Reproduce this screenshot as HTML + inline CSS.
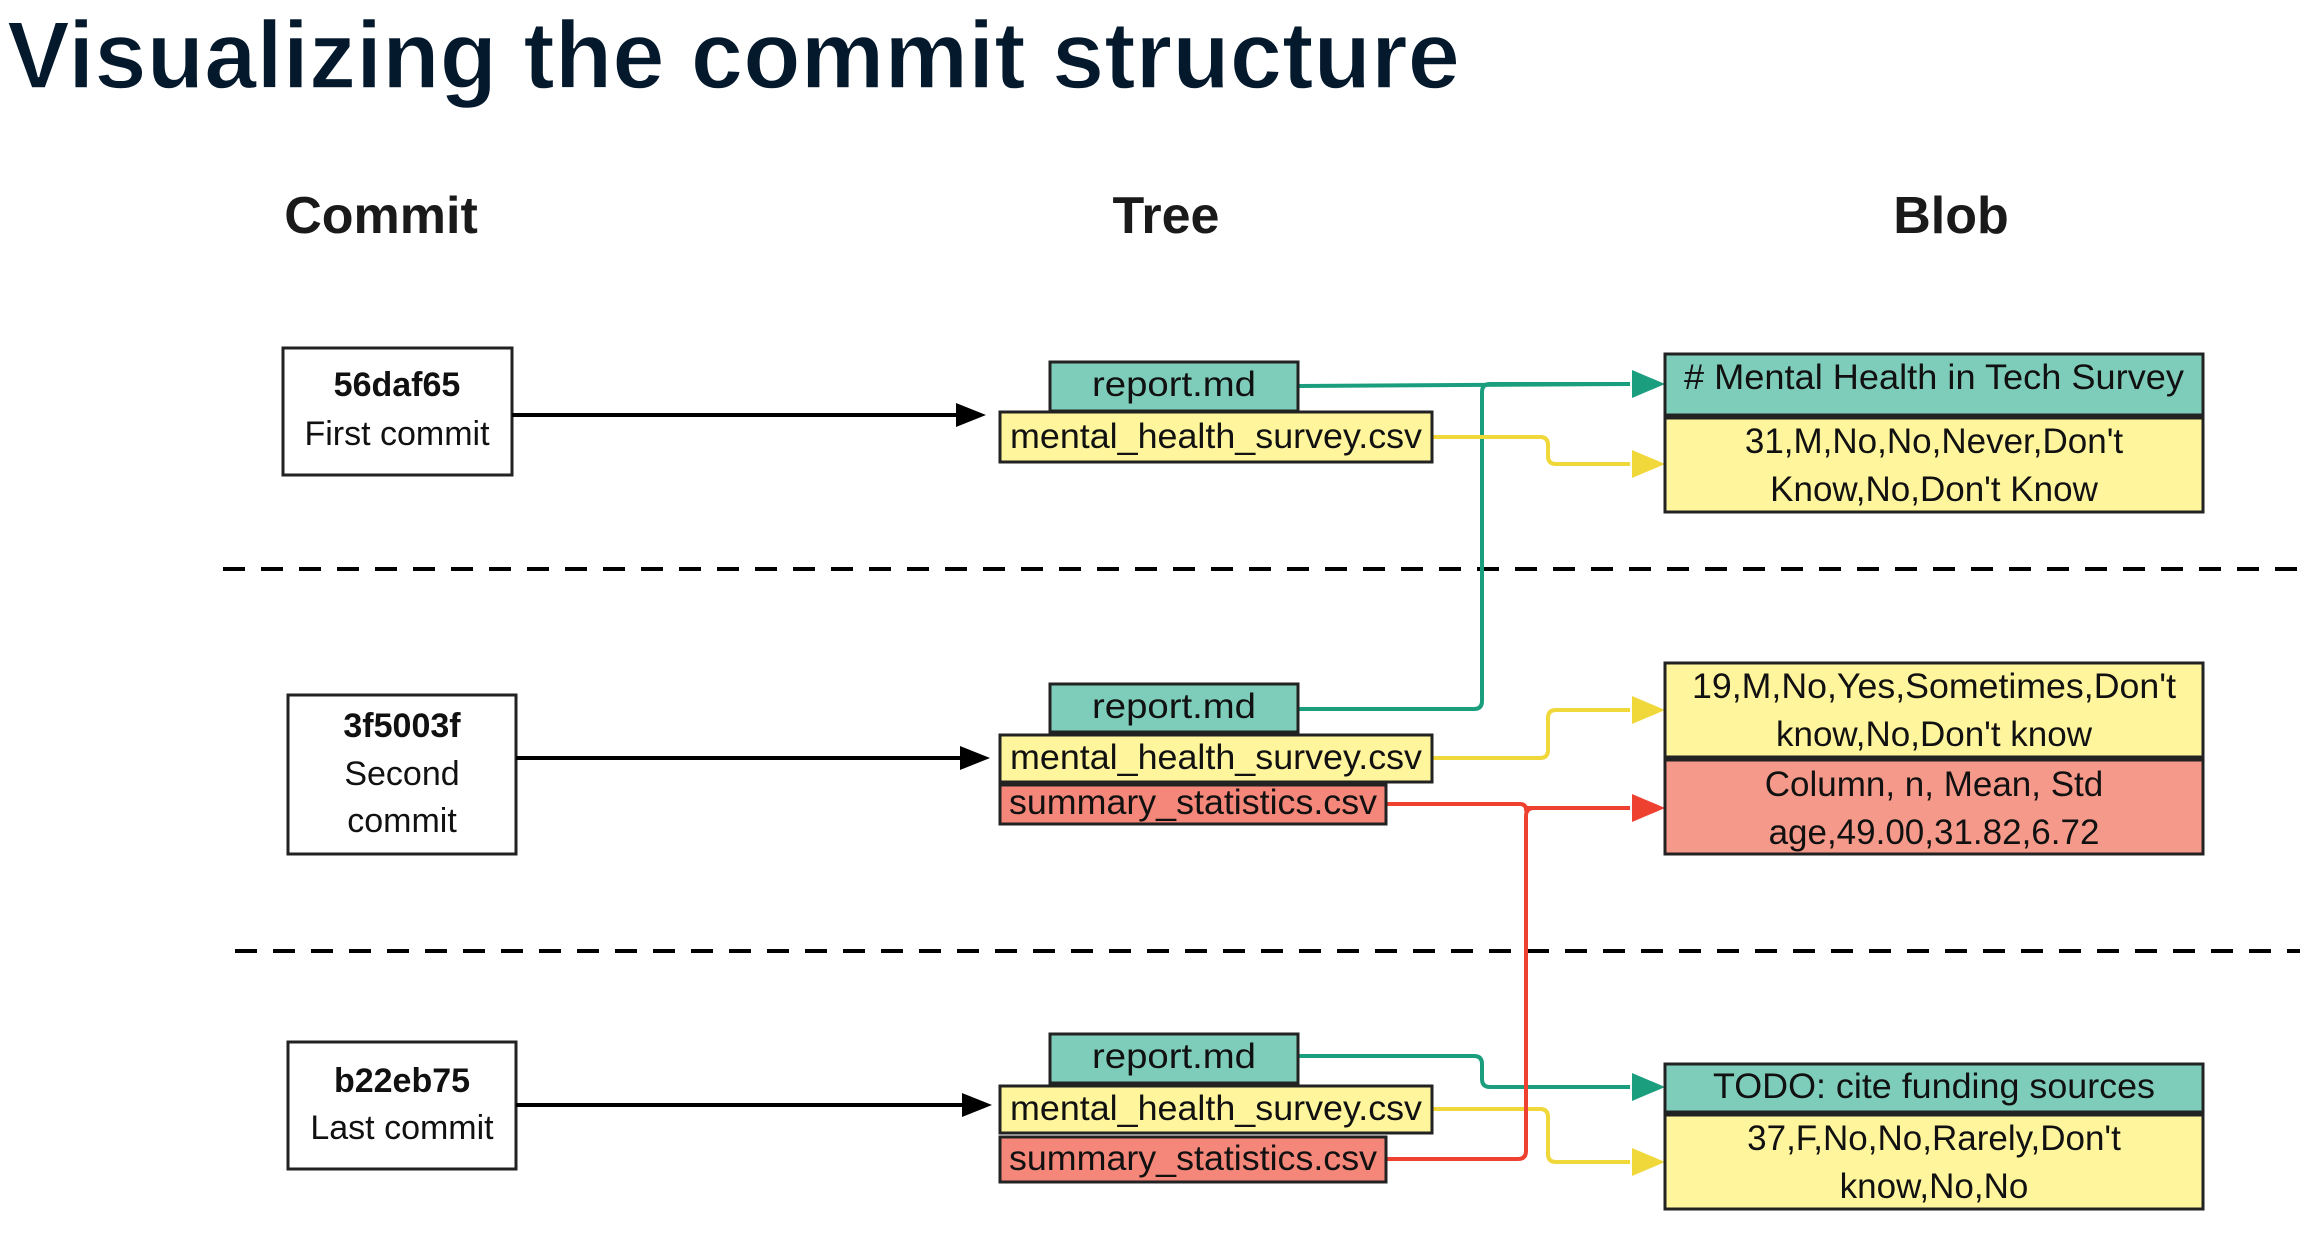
<!DOCTYPE html>
<html><head><meta charset="utf-8"><style>
html,body{margin:0;padding:0;background:#fff;}
svg{display:block;}
text{font-family:"Liberation Sans",sans-serif;fill:#111;}
</style></head><body>
<svg width="2300" height="1238" viewBox="0 0 2300 1238" xmlns="http://www.w3.org/2000/svg">
<text x="7" y="88" font-size="96" font-weight="bold" style="fill:#05192d;stroke:#fff;stroke-width:1.5" textLength="1453" lengthAdjust="spacingAndGlyphs">Visualizing the commit structure</text>
<text x="381" y="233" font-size="52" font-weight="bold" text-anchor="middle" style="fill:#1a1a1a">Commit</text>
<text x="1166" y="233" font-size="52" font-weight="bold" text-anchor="middle" style="fill:#1a1a1a">Tree</text>
<text x="1951" y="233" font-size="52" font-weight="bold" text-anchor="middle" style="fill:#1a1a1a">Blob</text>

<g stroke="#000" stroke-width="4" stroke-dasharray="22,16">
<line x1="223" y1="569" x2="2300" y2="569"/>
<line x1="235" y1="951" x2="2300" y2="951"/>
</g>

<!-- commits -->
<g fill="#fff" stroke="#222" stroke-width="3">
<rect x="283" y="348" width="229" height="127"/>
<rect x="288" y="695" width="228" height="159"/>
<rect x="288" y="1042" width="228" height="127"/>
</g>
<g font-size="34" text-anchor="middle">
<text x="397" y="396" font-weight="bold">56daf65</text>
<text x="397" y="445">First commit</text>
<text x="402" y="737" font-weight="bold">3f5003f</text>
<text x="402" y="785">Second</text>
<text x="402" y="832">commit</text>
<text x="402" y="1092" font-weight="bold">b22eb75</text>
<text x="402" y="1139">Last commit</text>
</g>
<g stroke="#000" stroke-width="4">
<line x1="512" y1="415" x2="960" y2="415"/>
<line x1="516" y1="758" x2="964" y2="758"/>
<line x1="516" y1="1105" x2="966" y2="1105"/>
</g>
<g fill="#000">
<path d="M956,403 L986,415 L956,427 z"/>
<path d="M960,746 L990,758 L960,770 z"/>
<path d="M962,1093 L992,1105 L962,1117 z"/>
</g>

<!-- connectors -->
<g fill="none" stroke-width="4" stroke-linejoin="round">
<path d="M1298,386 L1630,384" stroke="#1a9e7e"/>
<path d="M1298,709 L1474,709 Q1482,709 1482,701 L1482,392 Q1482,384 1490,384 L1630,384" stroke="#1a9e7e"/>
<path d="M1298,1056 L1474,1056 Q1482,1056 1482,1064 L1482,1079 Q1482,1087 1490,1087 L1630,1087" stroke="#1a9e7e"/>
<path d="M1432,437 L1540,437 Q1548,437 1548,445 L1548,456 Q1548,464 1556,464 L1630,464" stroke="#f0d83a"/>
<path d="M1432,758 L1540,758 Q1548,758 1548,750 L1548,718 Q1548,710 1556,710 L1630,710" stroke="#f0d83a"/>
<path d="M1432,1109 L1540,1109 Q1548,1109 1548,1117 L1548,1154 Q1548,1162 1556,1162 L1630,1162" stroke="#f0d83a"/>
<path d="M1386,804 L1520,804 Q1526,804 1526,810 L1526,808 L1630,808" stroke="#ee4130"/>
<path d="M1386,1159 L1518,1159 Q1526,1159 1526,1151 L1526,816 Q1526,808 1534,808 L1630,808" stroke="#ee4130"/>
</g>
<g>
<path d="M1632,370 L1665,384 L1632,398 z" fill="#1a9e7e"/>
<path d="M1632,1073 L1665,1087 L1632,1101 z" fill="#1a9e7e"/>
<path d="M1632,450 L1665,464 L1632,478 z" fill="#f0d83a"/>
<path d="M1632,696 L1665,710 L1632,724 z" fill="#f0d83a"/>
<path d="M1632,1148 L1665,1162 L1632,1176 z" fill="#f0d83a"/>
<path d="M1632,794 L1665,808 L1632,822 z" fill="#ee4130"/>
</g>

<!-- tree -->
<g stroke="#222" stroke-width="3">
<rect x="1050" y="362" width="248" height="49" fill="#7ecdbb"/>
<rect x="1000" y="412" width="432" height="50" fill="#fff59d"/>
<rect x="1050" y="684" width="248" height="48" fill="#7ecdbb"/>
<rect x="1000" y="735" width="432" height="47" fill="#fff59d"/>
<rect x="1000" y="785" width="386" height="39" fill="#f4877a"/>
<rect x="1050" y="1034" width="248" height="49" fill="#7ecdbb"/>
<rect x="1000" y="1086" width="432" height="47" fill="#fff59d"/>
<rect x="1000" y="1137" width="386" height="45" fill="#f4877a"/>
</g>
<g font-size="35" text-anchor="middle">
<text x="1174" y="396" textLength="164" lengthAdjust="spacingAndGlyphs">report.md</text>
<text x="1216" y="448" textLength="412" lengthAdjust="spacingAndGlyphs">mental_health_survey.csv</text>
<text x="1174" y="718" textLength="164" lengthAdjust="spacingAndGlyphs">report.md</text>
<text x="1216" y="769" textLength="412" lengthAdjust="spacingAndGlyphs">mental_health_survey.csv</text>
<text x="1193" y="814" textLength="368" lengthAdjust="spacingAndGlyphs">summary_statistics.csv</text>
<text x="1174" y="1068" textLength="164" lengthAdjust="spacingAndGlyphs">report.md</text>
<text x="1216" y="1120" textLength="412" lengthAdjust="spacingAndGlyphs">mental_health_survey.csv</text>
<text x="1193" y="1170" textLength="368" lengthAdjust="spacingAndGlyphs">summary_statistics.csv</text>
</g>

<!-- blobs -->
<g stroke="#222" stroke-width="3">
<rect x="1665" y="354" width="538" height="61" fill="#7ecdbb"/>
<rect x="1665" y="418" width="538" height="94" fill="#fff59d"/>
<rect x="1665" y="663" width="538" height="94" fill="#fff59d"/>
<rect x="1665" y="760" width="538" height="94" fill="#f59a8a"/>
<rect x="1665" y="1064" width="538" height="48" fill="#7ecdbb"/>
<rect x="1665" y="1115" width="538" height="94" fill="#fff59d"/>
</g>
<g font-size="35" text-anchor="middle">
<text x="1934" y="389" textLength="500" lengthAdjust="spacingAndGlyphs"># Mental Health in Tech Survey</text>
<text x="1934" y="453">31,M,No,No,Never,Don't</text>
<text x="1934" y="501">Know,No,Don't Know</text>
<text x="1934" y="698" textLength="484" lengthAdjust="spacingAndGlyphs">19,M,No,Yes,Sometimes,Don't</text>
<text x="1934" y="746">know,No,Don't know</text>
<text x="1934" y="796">Column, n, Mean, Std</text>
<text x="1934" y="844">age,49.00,31.82,6.72</text>
<text x="1934" y="1098" textLength="442" lengthAdjust="spacingAndGlyphs">TODO: cite funding sources</text>
<text x="1934" y="1150">37,F,No,No,Rarely,Don't</text>
<text x="1934" y="1198">know,No,No</text>
</g>
</svg>
</body></html>
